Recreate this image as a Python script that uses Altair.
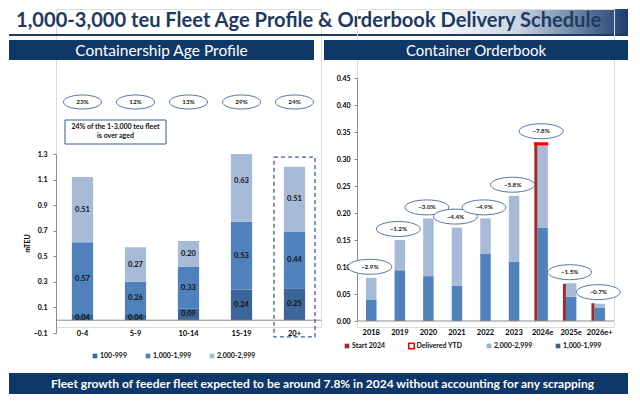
import altair as alt
import pandas as pd

# ---------------- data ----------------
age_groups = ["0-4", "5-9", "10-14", "15-19", "20+"]
age_100_999 = [0.04, 0.04, 0.09, 0.24, 0.25]
age_1000_1999 = [0.57, 0.26, 0.33, 0.53, 0.44]
age_2000_2999 = [0.51, 0.27, 0.20, 0.63, 0.51]
age_share = ["23%", "12%", "13%", "29%", "24%"]
age_series = ["100-999", "1,000-1,999", "2,000-2,999"]

years = ["2018", "2019", "2020", "2021", "2022", "2023", "2024e", "2025e", "2026e+"]
ob_1000_1999 = [0.040, 0.094, 0.083, 0.065, 0.125, 0.110, 0.173, 0.045, 0.025]
ob_2000_2999 = [0.040, 0.056, 0.107, 0.108, 0.065, 0.122, 0.152, 0.025, 0.007]
start_2024 = [0, 0, 0, 0, 0, 0, 0.331, 0.069, 0.033]
delivered_ytd = [0, 0, 0, 0, 0, 0, 0.006, 0, 0]
growth = ["~2.9%", "~1.2%", "~3.0%", "~4.4%", "~4.9%", "~5.8%", "~7.8%", "~1.5%", "~0.7%"]
ob_series = ["Start 2024", "Delivered YTD", "2,000-2,999", "1,000-1,999"]

title_text = "1,000-3,000 teu Fleet Age Profile & Orderbook Delivery Schedule"
left_header = "Containership Age Profile"
right_header = "Container Orderbook"
note_lines = ["24% of the 1-3,000 teu fleet", "is over aged"]
banner_text = "Fleet growth of feeder fleet expected to be around 7.8% in 2024 without accounting for any scrapping"

# ---------------- styles ----------------
FONT = "Lato"
NAVY = "#0f3768"
age_colors = ["#3c6699", "#4f81bd", "#a7bbd9"]
ob_colors = {"Start 2024": "#9c2b2b", "Delivered YTD": "#ff0000",
             "2,000-2,999": "#95b3d7", "1,000-1,999": "#3d6392"}
AXIS_GREY = "#8c8c8c"
ELL_STROKE = "#5577a8"

LW, RW, H = 265, 257, 318
YMAX_L = 1.3

# ---------------- tables ----------------
rows = []
for i, g in enumerate(age_groups):
    base = 0.0
    for s, vals in zip(age_series, [age_100_999, age_1000_1999, age_2000_2999]):
        v = vals[i]
        rows.append(dict(cat=g, series=s, y0=base, y1=min(base + v, YMAX_L),
                         mid=base + v / 2, label=f"{v:.2f}"))
        base += v
left_df = pd.DataFrame(rows)
share_df = pd.DataFrame(dict(cat=age_groups, share=age_share))

rrows = []
for i, yv in enumerate(years):
    base = 0.0
    for s, vals in zip(["1,000-1,999", "2,000-2,999"], [ob_1000_1999, ob_2000_2999]):
        v = vals[i]
        rrows.append(dict(year=yv, series=s, y0=base, y1=base + v))
        base += v
right_df = pd.DataFrame(rrows)
tot = [a + b for a, b in zip(ob_1000_1999, ob_2000_2999)]
ob_df = pd.DataFrame(dict(year=years, start=start_2024, tot=tot,
                          dtop=[t + d for t, d in zip(tot, delivered_ytd)],
                          dlv=delivered_ytd, growth=growth))
ob_df["top"] = ob_df[["start", "dtop"]].max(axis=1)

one = pd.DataFrame({"k": [0]})

# ---------------- shared encodings ----------------
ys_left = alt.Scale(domain=[-0.1, 1.3], range=[324, 145], nice=False, zero=False)
yaxis_left = alt.Axis(values=[-0.1, 0.1, 0.3, 0.5, 0.7, 0.9, 1.1, 1.3], format=".1f",
                      tickCount=20,
                      title="mTEU", titleX=-26, titleY=234, titleFontSize=7,
                      titleFontWeight="bold", titleFont=FONT, titleColor="#000",
                      labelFont=FONT, labelFontSize=7, labelFontWeight="bold",
                      labelColor="#000", domainColor=AXIS_GREY, tickColor=AXIS_GREY,
                      tickSize=3, labelPadding=6, grid=False, labelOverlap=False)
xs_left = alt.Scale(domain=age_groups, paddingInner=0.6, paddingOuter=0.3)
xaxis_left = alt.Axis(title=None, domain=False, ticks=False, tickSize=0, labelPadding=2,
                      labelAngle=0, labelFont=FONT, labelFontSize=7.5,
                      labelFontWeight="bold", labelColor="#000", grid=False)


def XL(field="cat:N"):
    return alt.X(field, scale=xs_left, axis=xaxis_left, sort=age_groups)


def YL(field):
    return alt.Y(field, scale=ys_left, axis=yaxis_left)


ys_right = alt.Scale(domain=[0, 0.45], range=[312, 69], nice=False, zero=False)
yaxis_right = alt.Axis(values=[0, 0.05, 0.10, 0.15, 0.20, 0.25, 0.30, 0.35, 0.40, 0.45],
                       format=".2f", tickCount=20, title=None, labelFont=FONT,
                       labelFontSize=7, labelFontWeight="bold", labelColor="#000",
                       domainColor=AXIS_GREY, tickColor=AXIS_GREY, tickSize=3,
                       labelPadding=4, grid=False, labelOverlap=False)
xs_right = alt.Scale(domain=years, paddingInner=0.6, paddingOuter=0.3)
xaxis_right = alt.Axis(title=None, domain=False, ticks=False, tickSize=0, labelPadding=1,
                       labelAngle=0, labelFont=FONT, labelFontSize=7.5,
                       labelFontWeight="bold", labelColor="#000", grid=False,
                       labelOverlap=False)


def XR(field="year:N"):
    return alt.X(field, scale=xs_right, axis=xaxis_right, sort=years)


def YR(field):
    return alt.Y(field, scale=ys_right, axis=yaxis_right)


def ellipse_path(ratio):
    return f"M -1 0 A 1 {ratio} 0 1 1 1 0 A 1 {ratio} 0 1 1 -1 0 Z"


def rect(x, x2, y, y2, **kw):
    return alt.Chart(one).mark_rect(**kw).encode(
        x=alt.value(x), x2=alt.value(x2), y=alt.value(y), y2=alt.value(y2))


def label(txt, x, y, **kw):
    return alt.Chart(one).mark_text(text=txt, font=FONT, **kw).encode(
        x=alt.value(x), y=alt.value(y))


# ---------------- left panel ----------------
OX = 47  # left view origin in chart coordinates
left_bars = alt.Chart(left_df).mark_bar().encode(
    x=XL(), y=YL("y0:Q"), y2="y1:Q",
    color=alt.Color("series:N", scale=alt.Scale(domain=age_series, range=age_colors),
                    legend=None),
    order=alt.Order("y0:Q"))
left_labels = alt.Chart(left_df).mark_text(font=FONT, fontSize=7.5, fontWeight="bold",
                                            color="#111").encode(
    x=XL(), y=YL("mid:Q"), text="label:N")
left_zero = alt.Chart(one).mark_rule(color=AXIS_GREY).encode(
    y=alt.datum(0), x=alt.value(0), x2=alt.value(LW))
dash_box = alt.Chart(pd.DataFrame({"cat": ["20+"]})).mark_bar(
    width=41, fillOpacity=0, stroke="#3e6191", strokeWidth=1.3, strokeDash=[4, 3]).encode(
    x=XL(), y=alt.datum(-0.131), y2=alt.datum(1.276))
left_ell = alt.Chart(share_df).mark_point(
    shape=ellipse_path(0.37), size=38 * 38, filled=True, fill="white", stroke=ELL_STROKE,
    strokeWidth=1, opacity=1).encode(x=XL(), y=alt.value(93))
left_ell_txt = alt.Chart(share_df).mark_text(font=FONT, fontSize=6.3, fontWeight="bold",
                                              color="#222").encode(
    x=XL(), y=alt.value(93), text="share:N")
note_box = rect(9, 110, 111, 135, fill="white", stroke="#3b5a86", strokeWidth=1)
note_txt = [label(t, 59.5, yy, fontSize=7, fontWeight="bold", color="#111")
            for t, yy in zip(note_lines, [118, 127])]

left_legend = []
for s, c, px in zip(age_series, age_colors, [39, 92, 156]):
    left_legend.append(alt.Chart(one).mark_square(size=22, color=c, opacity=1).encode(
        x=alt.value(px), y=alt.value(347)))
    left_legend.append(label(s, px + 5, 347, fontSize=7, fontWeight="bold", color="#111",
                             align="left", baseline="middle"))

# title block + banner (drawn from the left panel, coordinates relative to its view)
grad = alt.Gradient(gradient="linear",
                    stops=[alt.GradientStop(color="#ffffff", offset=0),
                           alt.GradientStop(color="#c9d4e4", offset=0.45),
                           alt.GradientStop(color="#1b3d6e", offset=1)],
                    x1=0, x2=1, y1=0, y2=0)
gradient_box = rect(420 - OX, 619 - OX, 0, 25, fill=grad)
title_line = rect(0 - OX, 619 - OX, 25, 27, fill="#1f3a60")
title_mark = label(title_text, 7 - OX, 12, fontSize=20.1, fontWeight="bold",
                   color="#1f3a60", align="left", baseline="middle")
lhead = rect(0 - OX, 305 - OX, 31, 51, fill=NAVY)
lhead_txt = label(left_header, 152.5 - OX, 41.5, fontSize=15.5, color="white",
                  baseline="middle")
banner = rect(0 - OX, 619 - OX, 364, 385, fill=NAVY)
banner_txt = label(banner_text, 313.5 - OX, 374.5, fontSize=12, fontWeight="bold",
                   color="white", baseline="middle")

left = alt.layer(
    left_bars, left_zero, left_labels, dash_box, left_ell, left_ell_txt, note_box,
    *note_txt, *left_legend, gradient_box, title_line, title_mark, lhead, lhead_txt,
    banner, banner_txt
).properties(width=LW, height=H)

# ---------------- right panel ----------------
RX = 348
right_bars = alt.Chart(right_df).mark_bar(width=10.5).encode(
    x=XR(), y=YR("y0:Q"), y2="y1:Q",
    color=alt.Color("series:N",
                    scale=alt.Scale(domain=["2,000-2,999", "1,000-1,999"],
                                    range=[ob_colors["2,000-2,999"],
                                           ob_colors["1,000-1,999"]]),
                    legend=None))
start_bars = alt.Chart(ob_df).transform_filter("datum.start > 0").mark_bar(
    width=3, xOffset=-6.75, color=ob_colors["Start 2024"]).encode(
    x=XR(), y=YR("start:Q"))
dlv_bars = alt.Chart(ob_df).transform_filter("datum.dlv > 0").mark_bar(
    width=14, xOffset=-1.5, color=ob_colors["Delivered YTD"]).encode(
    x=XR(), y=YR("tot:Q"), y2="dtop:Q")
right_zero = alt.Chart(one).mark_rule(color=AXIS_GREY).encode(
    y=alt.datum(0), x=alt.value(0), x2=alt.value(RW))
right_ell = alt.Chart(ob_df).mark_point(
    shape=ellipse_path(0.34), size=44 * 44, filled=True, fill="white", stroke=ELL_STROKE,
    strokeWidth=1, opacity=1, yOffset=-11, xOffset=-1.5).encode(x=XR(), y=YR("top:Q"))
right_ell_txt = alt.Chart(ob_df).mark_text(
    font=FONT, fontSize=6.3, fontWeight="bold", color="#222", yOffset=-11,
    xOffset=-1.5).encode(x=XR(), y=YR("top:Q"), text="growth:N")

right_legend = []
for s, px in zip(ob_series, [-10, 54.5, 132, 201]):
    if s == "Delivered YTD":
        sq = alt.Chart(one).mark_square(size=30, fill="white", stroke="#ff0000",
                                        strokeWidth=1.6, opacity=1)
    else:
        sq = alt.Chart(one).mark_square(size=22, color=ob_colors[s], opacity=1)
    right_legend.append(sq.encode(x=alt.value(px), y=alt.value(337)))
    right_legend.append(label(s, px + 5, 337, fontSize=7, fontWeight="bold", color="#111",
                              align="left", baseline="middle"))

rhead = rect(315 - RX, 619 - RX, 31, 51, fill=NAVY)
rhead_txt = label(right_header, 467 - RX, 41.5, fontSize=15, color="white",
                  baseline="middle")

right = alt.layer(
    right_bars, start_bars, dlv_bars, right_zero, right_ell, right_ell_txt,
    *right_legend, rhead, rhead_txt
).properties(width=RW, height=H)

chart = alt.hconcat(left, right, spacing=RX - OX - LW, bounds="flush").properties(
    padding=0
).configure_view(stroke=None).configure(font=FONT)

chart.save("out.html", embed_options={"renderer": "svg", "actions": False})
